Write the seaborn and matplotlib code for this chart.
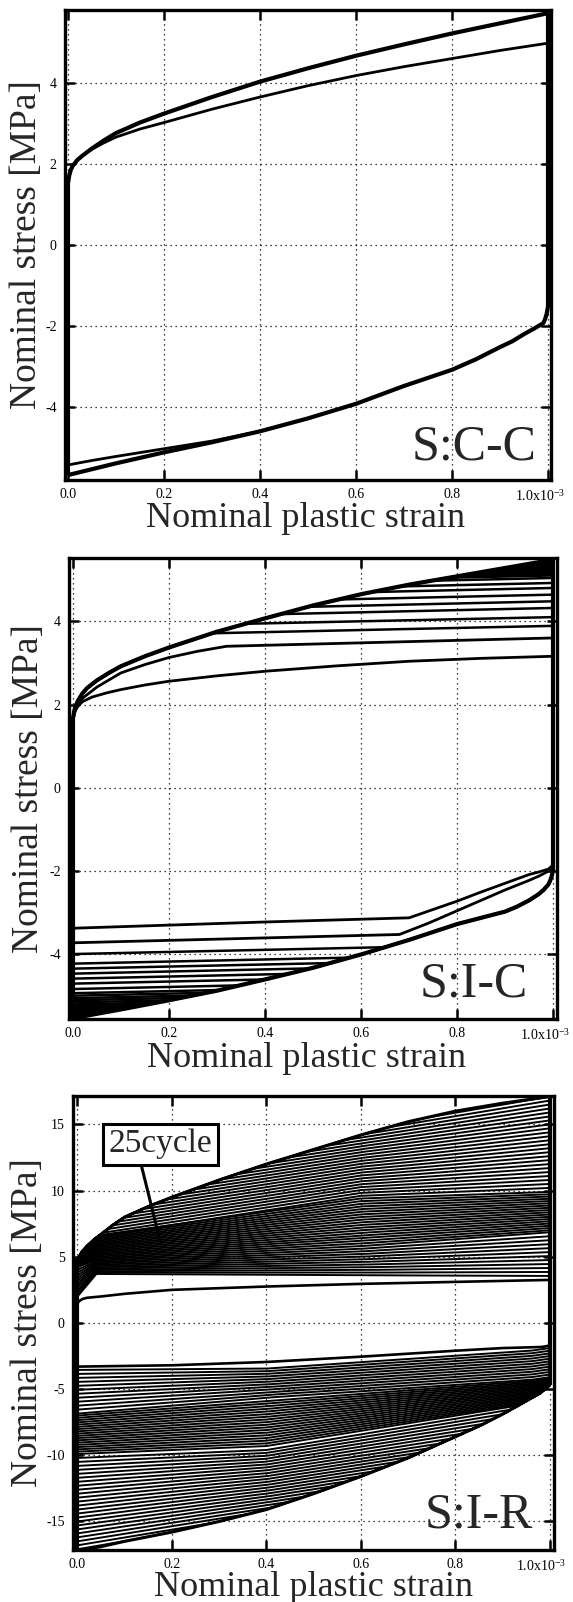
import numpy as np
import pandas as pd
import matplotlib
matplotlib.use("Agg")
import matplotlib.pyplot as plt
from matplotlib.transforms import ScaledTranslation
import seaborn as sns

# ---------------- data ----------------
x_ticks = [0.0, 0.2, 0.4, 0.6, 0.8, 1.0]
x_tick_labels = ["0.0", "0.2", "0.4", "0.6", "0.8", r"1.0x10$^{\mathregular{-3}}$"]
y_ticks_cc = [-4, -2, 0, 2, 4]
y_ticks_ic = [-4, -2, 0, 2, 4]
y_ticks_ir = [-15, -10, -5, 0, 5, 10, 15]
y_labels_cc = ["-4", "-2", "0", "2", "4"]
y_labels_ic = ["-4", "-2", "0", "2", "4"]
y_labels_ir = ["-15", "-10", "-5", "0", "5", "10", "15"]
panel_names = ["S:C-C", "S:I-C", "S:I-R"]
x_label = "Nominal plastic strain"
y_label = "Nominal stress [MPa]"
note_text = "25cycle"
note_point = (0.177, 5.9)
note_box = (0.176, 13.5)

# --- S:C-C ---
cc_up_x = [0, 0.003, 0.006, 0.01, 0.02, 0.03, 0.05, 0.075, 0.1, 0.15, 0.2, 0.3, 0.4, 0.5, 0.6, 0.7, 0.8, 0.9, 1.0]
cc_up_y = [1.5, 1.72, 1.85, 1.95, 2.1, 2.2, 2.38, 2.58, 2.76, 3.02, 3.24, 3.65, 4.03, 4.36, 4.67, 4.95, 5.22, 5.47, 5.72]
cc_first_up_x = [0, 0.003, 0.006, 0.01, 0.02, 0.03, 0.05, 0.075, 0.1, 0.15, 0.2, 0.3, 0.4, 0.5, 0.6, 0.7, 0.8, 0.9, 1.0]
cc_first_up_y = [1.5, 1.72, 1.85, 1.95, 2.1, 2.2, 2.36, 2.52, 2.66, 2.86, 3.02, 3.35, 3.65, 3.93, 4.18, 4.4, 4.6, 4.8, 4.98]
cc_low_x = [1.0, 0.997, 0.994, 0.99, 0.98, 0.97, 0.95, 0.925, 0.9, 0.85, 0.8, 0.7, 0.6, 0.5, 0.4, 0.3, 0.2, 0.1, 0.0]
cc_low_y = [-1.5, -1.7, -1.82, -1.93, -2.0, -2.07, -2.2, -2.38, -2.52, -2.82, -3.08, -3.48, -3.92, -4.28, -4.6, -4.87, -5.12, -5.39, -5.68]
cc_first_low_x = [0.45, 0.4, 0.3, 0.2, 0.1, 0.05, 0.0]
cc_first_low_y = [-4.44, -4.6, -4.84, -5.03, -5.22, -5.32, -5.43]

# --- S:I-C ---
ic_up_x = [0, 0.003, 0.006, 0.01, 0.02, 0.03, 0.05, 0.075, 0.1, 0.15, 0.2, 0.3, 0.4, 0.5, 0.6, 0.7, 0.8, 0.9, 1.0]
ic_up_y = [1.65, 1.85, 1.97, 2.08, 2.27, 2.4, 2.58, 2.76, 2.92, 3.16, 3.37, 3.75, 4.07, 4.38, 4.65, 4.88, 5.08, 5.28, 5.48]
ic_c1_up_x = [0, 0.005, 0.01, 0.02, 0.04, 0.07, 0.1, 0.15, 0.2, 0.3, 0.4, 0.55, 0.7, 0.85, 1.0]
ic_c1_up_y = [1.63, 1.85, 1.95, 2.07, 2.18, 2.28, 2.36, 2.47, 2.56, 2.69, 2.8, 2.93, 3.04, 3.11, 3.16]
ic_c2_up_x = [0, 0.005, 0.01, 0.02, 0.05, 0.1, 0.15, 0.2, 0.26, 0.32, 1.0]
ic_c2_up_y = [1.65, 1.87, 1.98, 2.15, 2.42, 2.76, 2.96, 3.13, 3.28, 3.40, 3.60]
ic_up_start = [3.64, 3.85, 4.06, 4.22, 4.38, 4.54, 4.66, 4.78, 4.85, 4.89, 4.93, 4.97, 5.01,
               5.05, 5.08, 5.11, 5.14, 5.17, 5.19, 5.21]
ic_up_end = [3.89, 4.10, 4.32, 4.48, 4.64, 4.80, 4.92, 5.04, 5.10, 5.14, 5.18, 5.22, 5.26,
             5.30, 5.33, 5.36, 5.39, 5.42, 5.44, 5.46]
ic_low_x = [1.0, 0.997, 0.994, 0.99, 0.98, 0.97, 0.95, 0.925, 0.9, 0.85, 0.8, 0.7, 0.6, 0.5, 0.4, 0.3, 0.2, 0.1, 0.0]
ic_low_y = [-1.95, -2.12, -2.22, -2.32, -2.45, -2.55, -2.7, -2.85, -2.97, -3.12, -3.27, -3.65, -4.0, -4.32, -4.6, -4.87, -5.1, -5.32, -5.53]
ic_c1_low_x = [1.0, 0.99, 0.97, 0.95, 0.9, 0.85, 0.8, 0.75, 0.7, 0.4, 0.0]
ic_c1_low_y = [-1.85, -1.95, -2.02, -2.08, -2.29, -2.5, -2.72, -2.92, -3.12, -3.22, -3.37]
ic_c2_low_x = [1.0, 0.99, 0.97, 0.95, 0.9, 0.85, 0.8, 0.74, 0.68, 0.0]
ic_c2_low_y = [-1.9, -2.0, -2.12, -2.22, -2.45, -2.7, -2.95, -3.25, -3.52, -3.72]
ic_low_start = [-3.99, -4.22, -4.34, -4.46, -4.58, -4.70, -4.83, -4.93, -4.99, -5.05, -5.10,
                -5.15, -5.20, -5.24, -5.28, -5.32, -5.36, -5.40, -5.44, -5.48]
ic_low_end = [-3.74, -3.97, -4.09, -4.21, -4.33, -4.45, -4.58, -4.68, -4.74, -4.80, -4.85,
              -4.90, -4.95, -4.99, -5.03, -5.07, -5.11, -5.15, -5.19, -5.23]

# --- S:I-R ---
ir_up_x = [0, 0.005, 0.01, 0.02, 0.035, 0.05, 0.075, 0.1, 0.15, 0.2, 0.3, 0.4, 0.5, 0.6, 0.7, 0.8, 0.9, 1.0]
ir_up_y = [4.8, 5.1, 5.4, 5.8, 6.3, 6.7, 7.4, 8.0, 8.8, 9.5, 10.8, 12.0, 13.1, 14.2, 15.2, 16.0, 16.6, 17.1]
ir_c1_up_x = [0, 0.005, 0.01, 0.02, 0.05, 0.1, 0.2, 0.4, 0.6, 0.8, 1.0]
ir_c1_up_y = [1.5, 1.68, 1.8, 1.9, 2.0, 2.2, 2.5, 2.75, 2.95, 3.1, 3.25]
ir_up_knots = [0.0, 0.04, 0.6, 1.0]
ir_up_v0 = [2.0, 2.2, 2.4, 2.6, 2.8, 3.0, 3.2, 3.4, 3.6, 3.8, 4.0, 4.2,
            4.3, 4.35, 4.4, 4.45, 4.5, 4.55, 4.6, 4.65, 4.7, 4.75, 4.8, 4.85, 4.9, 4.95, 5.0, 5.05, 5.1, 5.15,
            6.0, 6.2, 6.4, 6.6, 6.8, 7.0, 7.2, 7.4, 7.6, 7.8, 8.0, 8.2, 8.4, 8.6, 8.8, 9.0, 9.2, 9.4,
            9.6, 9.8, 10.0, 10.2, 10.4, 10.6]
ir_up_v04 = [3.7, 3.8, 3.9, 4.0, 4.1, 4.2, 4.3, 4.4, 4.5, 4.6, 4.7, 4.8,
             4.9, 5.0, 5.1, 5.2, 5.3, 5.4, 5.5, 5.6, 5.7, 5.8, 5.9, 6.0, 6.1, 6.2, 6.3, 6.4, 6.5, 6.6,
             6.52, 6.74, 6.96, 7.18, 7.4, 7.62, 7.84, 8.06, 8.28, 8.5, 8.72, 8.94, 9.16, 9.38, 9.6, 9.82,
             10.04, 10.26, 10.48, 10.7, 10.92, 11.14, 11.36, 11.58]
ir_up_v6 = [3.6, 3.8, 4.0, 4.2, 4.4, 4.6, 4.8, 5.0, 5.2, 5.4, 5.6, 5.8,
            6.0, 6.2, 6.4, 6.6, 6.8, 7.0, 7.2, 7.4, 7.6, 7.8, 8.0, 8.2, 8.4, 8.6, 8.8, 9.0, 9.2, 9.4,
            9.6, 9.82, 10.04, 10.26, 10.48, 10.7, 10.92, 11.14, 11.36, 11.58, 11.8, 12.02, 12.24, 12.46,
            12.68, 12.9, 13.12, 13.34, 13.56, 13.78, 14.0, 14.22, 14.44, 14.66]
ir_up_v10 = [3.55, 3.85, 4.15, 4.45, 4.75, 5.05, 5.35, 5.65, 5.95, 6.25, 6.55, 6.85,
             7.0, 7.17, 7.34, 7.51, 7.68, 7.85, 8.02, 8.19, 8.36, 8.53, 8.7, 8.87, 9.04, 9.21, 9.38, 9.55, 9.72, 9.9,
             10.2, 10.5, 10.8, 11.1, 11.4, 11.7, 12.0, 12.3, 12.6, 12.9, 13.2, 13.5, 13.8, 14.1, 14.4, 14.7,
             15.0, 15.3, 15.6, 15.9, 16.2, 16.5, 16.8, 17.1]
ir_low_x = [1.0, 0.98, 0.95, 0.9, 0.85, 0.8, 0.7, 0.6, 0.5, 0.4, 0.3, 0.2, 0.1, 0.05, 0.0]
ir_low_y = [-4.7, -5.3, -5.9, -6.9, -7.8, -8.6, -10.2, -11.6, -12.9, -14.1, -15.0, -15.8, -16.5, -16.9, -17.2]
ir_c1_low_x = [1.0, 0.995, 0.99, 0.98, 0.95, 0.9, 0.8, 0.6, 0.4, 0.2, 0.0]
ir_c1_low_y = [-1.7, -1.74, -1.78, -1.82, -1.85, -1.9, -2.1, -2.55, -2.95, -3.2, -3.3]
ir_low_knots = [0.0, 0.4, 0.96, 1.0]
ir_low_v0 = [-3.55, -3.85, -4.15, -4.45, -4.75, -5.05, -5.35, -5.65, -5.95, -6.25, -6.55, -6.85,
             -7.0, -7.17, -7.34, -7.51, -7.68, -7.85, -8.02, -8.19, -8.36, -8.53, -8.7, -8.87, -9.04, -9.21, -9.38, -9.55, -9.72, -9.9,
             -10.2, -10.5, -10.8, -11.1, -11.4, -11.7, -12.0, -12.3, -12.6, -12.9, -13.2, -13.5, -13.8, -14.1,
             -14.4, -14.7, -15.0, -15.3, -15.6, -15.9, -16.2, -16.5, -16.8, -17.1]
ir_low_v4 = [-3.45, -3.65, -3.85, -4.05, -4.25, -4.45, -4.65, -4.85, -5.05, -5.25, -5.45, -5.65,
             -5.9, -6.1, -6.3, -6.5, -6.7, -6.9, -7.1, -7.3, -7.5, -7.7, -7.9, -8.1, -8.3, -8.5, -8.7, -8.9, -9.1, -9.3,
             -9.6, -9.82, -10.04, -10.26, -10.48, -10.7, -10.92, -11.14, -11.36, -11.58, -11.8, -12.02, -12.24, -12.46,
             -12.68, -12.9, -13.12, -13.34, -13.56, -13.78, -14.0, -14.22, -14.44, -14.66]
ir_low_v96 = [-2.1, -2.3, -2.5, -2.7, -2.9, -3.1, -3.3, -3.5, -3.7, -3.9, -4.1, -4.3,
              -4.4, -4.5, -4.6, -4.7, -4.8, -4.9, -5.0, -5.1, -5.2, -5.3, -5.4, -5.5, -5.6, -5.7, -5.8, -5.9, -6.0, -6.1,
              -6.3, -6.55, -6.8, -7.05, -7.3, -7.55, -7.8, -8.05, -8.28, -8.5, -8.72, -8.94, -9.16, -9.38,
              -9.6, -9.82, -10.04, -10.26, -10.48, -10.7, -10.92, -11.14, -11.36, -11.58]
ir_low_v10 = [-1.9, -2.1, -2.3, -2.5, -2.7, -2.9, -3.1, -3.3, -3.5, -3.7, -3.9, -4.1,
              -4.2, -4.25, -4.3, -4.35, -4.4, -4.45, -4.5, -4.55, -4.6, -4.65, -4.7, -4.75, -4.8, -4.85, -4.9, -4.95, -5.0, -5.05,
              -6.0, -6.2, -6.4, -6.6, -6.8, -7.0, -7.2, -7.4, -7.6, -7.8, -8.0, -8.2, -8.4, -8.6,
              -8.8, -9.0, -9.2, -9.4, -9.6, -9.8, -10.0, -10.2, -10.4, -10.6]

# ---------------- helpers ----------------
GRID = np.linspace(0, 1, 401)


def _env(env_x, env_y, grid):
    order = np.argsort(env_x)
    return np.interp(grid, np.asarray(env_x, float)[order], np.asarray(env_y, float)[order])


def upper_lines(env_x, env_y, knots, cols):
    grid = np.union1d(GRID, np.union1d(env_x, knots))
    env = _env(env_x, env_y, grid)
    out = []
    for vals in zip(*cols):
        out.append((grid, np.minimum(env, np.interp(grid, knots, vals))))
    return out


def lower_lines(env_x, env_y, knots, cols):
    grid = np.union1d(GRID, np.union1d(env_x, knots))
    env = _env(env_x, env_y, grid)
    out = []
    for vals in zip(*cols):
        out.append((grid, np.maximum(env, np.interp(grid, knots, vals))))
    return out


def to_frame(curves):
    rows = []
    for i, (x, y) in enumerate(curves):
        rows.append(pd.DataFrame({"x": np.asarray(x, float), "y": np.asarray(y, float), "unit": i}))
    return pd.concat(rows, ignore_index=True)


def draw(ax, curves, lw):
    df = to_frame(curves)
    sns.lineplot(data=df, x="x", y="y", units="unit", estimator=None, sort=False,
                 color="black", linewidth=lw, legend=False, ax=ax,
                 solid_joinstyle="round", solid_capstyle="butt")

# ---------------- figure ----------------
sns.set_theme(style="ticks")
plt.rcParams["font.family"] = ["Liberation Serif", "DejaVu Serif"]
plt.rcParams["mathtext.fontset"] = "stix"

fig = plt.figure(figsize=(5.73, 16.02), dpi=100)
fig.patch.set_facecolor("white")

positions = [
    [0.1134, 0.7004, 0.8482, 0.2934],
    [0.1204, 0.3639, 0.8517, 0.2878],
    [0.1274, 0.0325, 0.8394, 0.2834],
]
xlims = [(-0.006, 1.006), (-0.008, 1.008), (-0.0095, 1.009)]
ylims = [(-5.8, 5.8), (-5.55, 5.52), (-17.15, 17.15)]
yticks = [y_ticks_cc, y_ticks_ic, y_ticks_ir]
ylabs = [y_labels_cc, y_labels_ic, y_labels_ir]
name_pos = [(0.971, 0.043), (0.94, 0.048), (0.956, 0.05)]
ylab_x = [-0.078, -0.082, -0.095]
xlab = [(0.494, -0.081), (0.486, -0.086), (0.499, -0.083)]

axes = [fig.add_axes(p) for p in positions]

# S:C-C
ax = axes[0]
draw(ax, [(cc_first_up_x, cc_first_up_y), (cc_first_low_x, cc_first_low_y)], 2.0)
draw(ax, [(cc_up_x, cc_up_y), (cc_low_x, cc_low_y)], 3.0)
draw(ax, [([0, 0], [cc_low_y[-1], cc_up_y[0]]), ([1, 1], [cc_low_y[0], cc_up_y[-1]])], 3.0)

# S:I-C
ax = axes[1]
knots2 = [0.0, 1.0]
draw(ax, upper_lines(ic_up_x, ic_up_y, knots2, [ic_up_start, ic_up_end]), 1.8)
draw(ax, lower_lines(ic_low_x, ic_low_y, knots2, [ic_low_start, ic_low_end]), 1.8)
draw(ax, [(ic_c1_up_x, ic_c1_up_y), (ic_c2_up_x, ic_c2_up_y),
          (ic_c1_low_x, ic_c1_low_y), (ic_c2_low_x, ic_c2_low_y)], 2.0)
draw(ax, [(ic_up_x, ic_up_y), (ic_low_x, ic_low_y)], 3.0)
draw(ax, [([0, 0], [ic_low_y[-1], ic_up_y[0]]), ([1, 1], [ic_low_y[0], ic_up_y[-1]])], 3.0)

# S:I-R
ax = axes[2]
draw(ax, upper_lines(ir_up_x, ir_up_y, ir_up_knots, [ir_up_v0, ir_up_v04, ir_up_v6, ir_up_v10]), 1.4)
draw(ax, lower_lines(ir_low_x, ir_low_y, ir_low_knots, [ir_low_v0, ir_low_v4, ir_low_v96, ir_low_v10]), 1.4)
draw(ax, [(ir_c1_up_x, ir_c1_up_y), (ir_c1_low_x, ir_c1_low_y)], 1.9)
draw(ax, [(ir_up_x, ir_up_y), (ir_low_x, ir_low_y)], 2.2)
draw(ax, [([0, 0], [ir_low_y[-1], ir_up_y[0]]), ([1, 1], [ir_low_y[0], ir_up_y[-1]])], 3.0)
ax.annotate(note_text, xy=note_point, xytext=note_box, ha="center", va="center",
            fontsize=24, zorder=5,
            bbox=dict(boxstyle="square,pad=0.16", fc="white", ec="black", lw=2.2),
            arrowprops=dict(arrowstyle="-", lw=2.2, color="black", relpos=(0.3, 0.0),
                            shrinkA=0, shrinkB=0))

for i, ax in enumerate(axes):
    ax.set_facecolor("white")
    ax.set_xlim(*xlims[i])
    ax.set_ylim(*ylims[i])
    ax.set_xticks(x_ticks)
    ax.set_xticklabels(x_tick_labels)
    ax.set_yticks(yticks[i])
    ax.set_yticklabels(ylabs[i])
    ax.grid(True, color="black", linestyle=(0, (1, 3)), linewidth=0.9)
    ax.set_axisbelow(True)
    ax.tick_params(direction="in", length=7, width=1.8, top=True, right=True,
                   labelsize=10, pad=6, colors="black")
    last = ax.get_xticklabels()[-1]
    last.set_transform(last.get_transform() + ScaledTranslation(-6 / 72, 0, fig.dpi_scale_trans))
    for s in ax.spines.values():
        s.set_linewidth(2.4)
        s.set_color("black")
        s.set_visible(True)
        s.set_zorder(6)
    ax.set_xlabel(x_label, fontsize=26, va="center")
    ax.xaxis.set_label_coords(*xlab[i])
    ax.set_ylabel(y_label, fontsize=27, va="center")
    ax.yaxis.set_label_coords(ylab_x[i], 0.5)
    ax.text(name_pos[i][0], name_pos[i][1], panel_names[i], transform=ax.transAxes,
            ha="right", va="baseline", fontsize=36, zorder=7)

fig.savefig("out.png", dpi=100, facecolor="white")
